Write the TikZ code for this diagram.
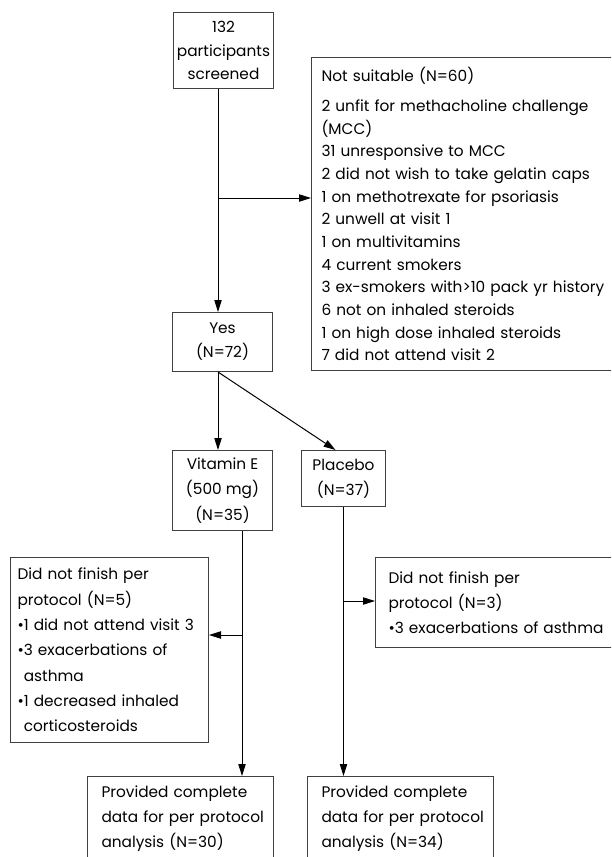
\documentclass[tikz,border=0pt]{standalone}
\usepackage{fontspec}
\setmainfont{Poppins}
\usetikzlibrary{arrows.meta}

\begin{document}
\begin{tikzpicture}[x=0.75pt, y=-0.75pt,
    box/.style={draw=black!75, line width=0.75pt, inner sep=0pt, anchor=north west},
    mid/.style={box, align=center},
    lft/.style={box, align=left, execute at begin node={\leftskip=#1}},
    lines/.style={execute at begin node={\baselineskip=#1}},
    arr/.style={line width=0.75pt, -{Triangle[length=9pt, width=5.5pt]}}]
  \fontsize{11.5pt}{18.75pt}\selectfont
  \useasboundingbox (0,0) rectangle (611,857);
  \clip (0,0) rectangle (611,857);
  % screening
  \node[mid, lines=17.6pt, minimum width=75pt, minimum height=57pt] (screen) at (173,12)
    {132\\participants\\screened};
  \node[lft=7.5pt, lines=17pt, text width=247.5pt, minimum height=234.75pt] (unfit) at (311,57)
    {Not suitable (N=60)\\[5.5pt]
     2 unfit for methacholine challenge\\
     (MCC)\\
     31 unresponsive to MCC\\
     2 did not wish to take gelatin caps\\
     1 on methotrexate for psoriasis\\
     2 unwell at visit 1\\
     1 on multivitamins\\
     4 current smokers\\
     3 ex-smokers with>10 pack yr history\\
     6 not on inhaled steroids\\
     1 on high dose inhaled steroids\\
     7 did not attend visit 2};
  \node[mid, lines=18pt, minimum width=75pt, minimum height=44.25pt] (yes) at (172,312)
    {Yes\\(N=72)};
  % randomised groups
  \node[mid, lines=19pt, minimum width=75pt, minimum height=60pt] (vite) at (172,450)
    {Vitamin E\\(500 mg)\\(N=35)};
  \node[mid, minimum width=63pt, minimum height=42pt] (plac) at (301,450)
    {Placebo\\(N=37)};
  % withdrawals
  \node[lft=5.25pt, lines=19pt, text width=148.5pt, minimum height=138.75pt] (dnfE) at (10,557)
    {Did not finish per\\
     protocol (N=5)\\
     \textbullet1 did not attend visit 3\\
     \textbullet3 exacerbations of\\
     \phantom{\textbullet}asthma\\
     \textbullet1 decreased inhaled\\
     \phantom{\textbullet}corticosteroids};
  \node[lft=9.75pt, text width=195pt, minimum height=67.5pt] (dnfP) at (375,557)
    {Did not finish per\\
     protocol (N=3)\\
     \textbullet3 exacerbations of asthma};
  % per protocol
  \node[lft=10.5pt, text width=139.5pt, minimum height=63pt] (compE) at (87,776)
    {Provided complete\\data for per protocol\\analysis (N=30)};
  \node[lft=10.5pt, text width=139.5pt, minimum height=63pt] (compP) at (307,776)
    {Provided complete\\data for per protocol\\analysis (N=34)};
  % connectors
  \coordinate (c1) at (218,0);
  \coordinate (c2) at (242,0);
  \coordinate (b1) at (218,198);
  \coordinate (b2) at (242,635);
  \coordinate (b3) at (343,601);
  \draw[arr] (screen.south -| c1) -- (yes.north -| c1);
  \draw[arr] (b1) -- (b1 -| unfit.west);
  \draw[arr] (yes.south -| c1) -- (vite.north -| c1);
  \draw[arr] (yes.south -| c1) -- ([xshift=-6pt]plac.north);
  \draw[arr] (vite.south -| c2) -- (compE.north -| c2);
  \draw[arr] (b2) -- (b2 -| dnfE.east);
  \draw[arr] (plac.south) -- (compP.north -| plac.south);
  \draw[arr] (b3) -- (b3 -| dnfP.west);
\end{tikzpicture}
\end{document}
